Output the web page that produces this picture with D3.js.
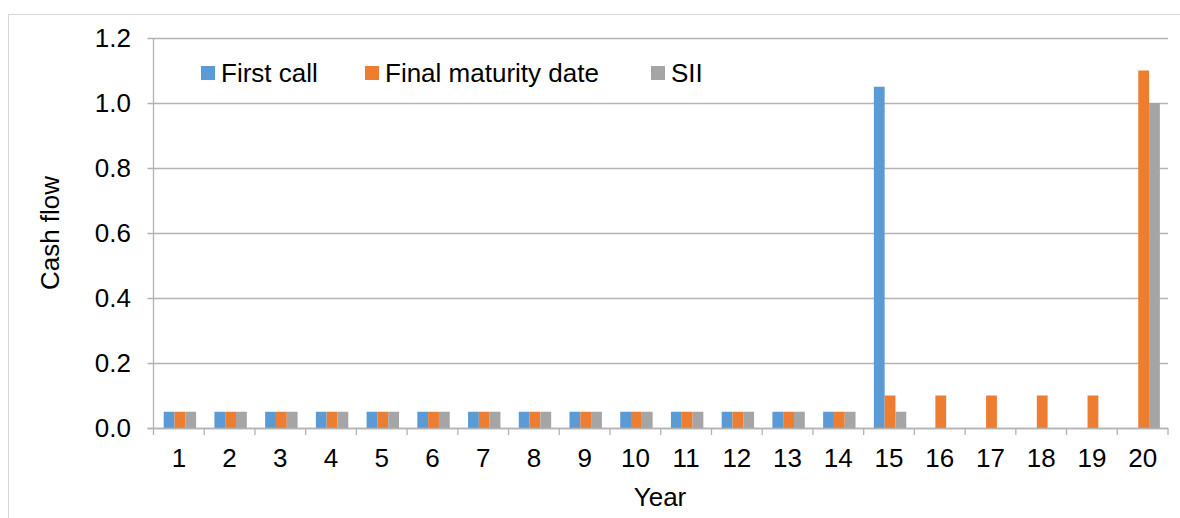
<!DOCTYPE html>
<html>
<head>
<meta charset="utf-8">
<script src="https://cdn.jsdelivr.net/npm/d3@7/dist/d3.min.js"></script>
<style>
html,body{margin:0;padding:0;background:#fff;}
svg text{font-family:"Liberation Sans",Arial,sans-serif;fill:#000;}
</style>
</head>
<body>
<svg id="chart" width="1180" height="518"></svg>
<script>
const years = ["1","2","3","4","5","6","7","8","9","10","11","12","13","14","15","16","17","18","19","20"];
const seriesNames = ["First call","Final maturity date","SII"];
const firstCall = [0.05,0.05,0.05,0.05,0.05,0.05,0.05,0.05,0.05,0.05,0.05,0.05,0.05,0.05,1.05,0,0,0,0,0];
const finalMaturity = [0.05,0.05,0.05,0.05,0.05,0.05,0.05,0.05,0.05,0.05,0.05,0.05,0.05,0.05,0.1,0.1,0.1,0.1,0.1,1.1];
const sii = [0.05,0.05,0.05,0.05,0.05,0.05,0.05,0.05,0.05,0.05,0.05,0.05,0.05,0.05,0.05,0,0,0,0,1.0];
const yTicks = [0,0.2,0.4,0.6,0.8,1.0,1.2];
const colors = ["#5B9BD5","#ED7D31","#A5A5A5"];
const seriesValues = [firstCall, finalMaturity, sii];

(function(){
const FS = 26;
const svg = d3.select("#chart");
svg.append("rect").attr("x",8.5).attr("y",14.5).attr("width",1180).attr("height",520)
  .attr("fill","none").attr("stroke","#d9d9d9");

const pL=153.5, pR=1168, pT=38, pB=428;
const x = d3.scaleBand().domain(years).range([pL,pR]).paddingInner(0).paddingOuter(0);
const x1 = d3.scaleBand().domain(seriesNames).range([10.2, 42.6]);
const y = d3.scaleLinear().domain([0,1.2]).range([pB,pT]);

svg.append("g").selectAll("line").data(yTicks).join("line")
  .attr("x1",pL-6).attr("x2",pR).attr("y1",d=>Math.round(y(d))+0.5).attr("y2",d=>Math.round(y(d))+0.5)
  .attr("stroke","#b3b3b3").attr("stroke-width",1.3);

svg.append("g").selectAll("text").data(yTicks).join("text")
  .attr("x",131).attr("y",d=>y(d)+9).attr("text-anchor","end")
  .attr("font-size",FS).text(d=>d3.format(".1f")(d));

svg.append("line").attr("x1",pL).attr("x2",pL).attr("y1",pT).attr("y2",pB)
  .attr("stroke","#b3b3b3").attr("stroke-width",1.3);

const groups = svg.append("g").selectAll("g").data(years).join("g")
  .attr("transform",d=>`translate(${x(d)},0)`);
groups.selectAll("rect").data((d,i)=>seriesNames.map((s,k)=>({s,k,v:seriesValues[k][i]})))
  .join("rect")
  .attr("x",d=>x1(d.s)).attr("width",x1.bandwidth())
  .attr("y",d=>y(d.v)).attr("height",d=>y(0)-y(d.v))
  .attr("fill",d=>colors[d.k]);

svg.append("line").attr("x1",pL-6).attr("x2",pR).attr("y1",pB+0.5).attr("y2",pB+0.5)
  .attr("stroke","#b3b3b3").attr("stroke-width",1.3);
const tickPos = years.map(d=>x(d)).concat([pR]);
svg.append("g").selectAll("line").data(tickPos).join("line")
  .attr("x1",d=>d).attr("x2",d=>d).attr("y1",pB).attr("y2",pB+7)
  .attr("stroke","#b3b3b3").attr("stroke-width",1.3);
svg.append("g").selectAll("text").data(years).join("text")
  .attr("x",d=>x(d)+x.bandwidth()/2).attr("y",467).attr("text-anchor","middle")
  .attr("font-size",FS).text(d=>d);

svg.append("text").attr("x",660).attr("y",506).attr("text-anchor","middle").attr("font-size",FS).text("Year");
svg.append("text").attr("transform","translate(59,233) rotate(-90)").attr("text-anchor","middle")
  .attr("font-size",FS).text("Cash flow");

const legendX = [201, 365, 651];
const lg = svg.append("g").selectAll("g").data(seriesNames).join("g")
  .attr("transform",(d,i)=>`translate(${legendX[i]},66)`);
lg.append("rect").attr("width",14).attr("height",14).attr("fill",(d,i)=>colors[i]);
lg.append("text").attr("x",20).attr("y",15.5).attr("font-size",FS).text(d=>d);
})();
</script>
</body>
</html>
